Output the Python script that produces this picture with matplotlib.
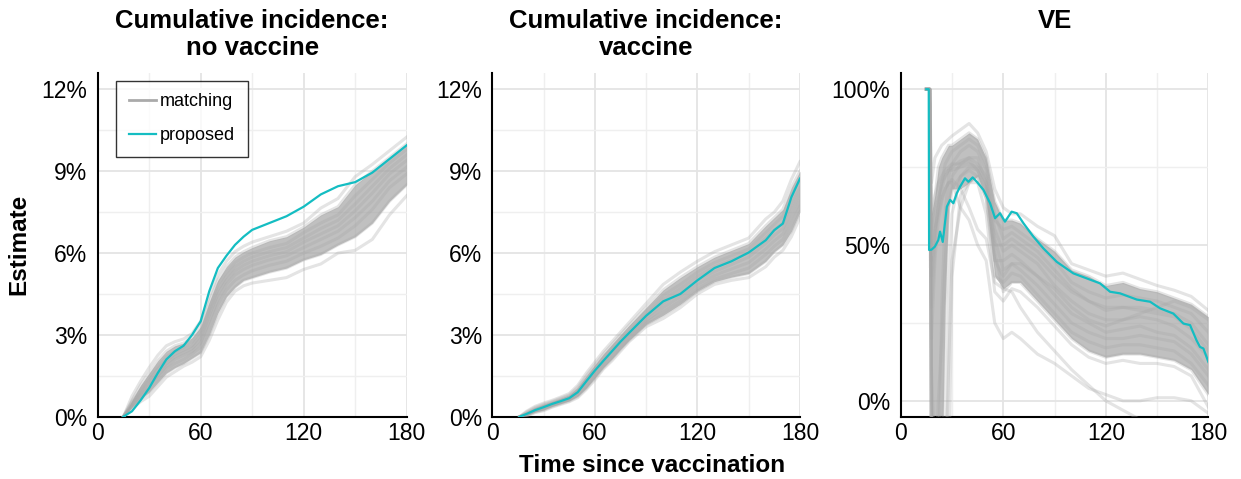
import numpy as np
import matplotlib
matplotlib.use("Agg")
import matplotlib.pyplot as plt
from matplotlib.lines import Line2D
from matplotlib.ticker import MultipleLocator

plt.rcParams['font.family'] = ['Liberation Sans', 'DejaVu Sans']

# ---------------- data ----------------
titles = ["Cumulative incidence:\nno vaccine", "Cumulative incidence:\nvaccine", "VE"]
xticks = [0, 60, 120, 180]
yticks_ci = [0, 3, 6, 9, 12]
yticklabels_ci = ["0%", "3%", "6%", "9%", "12%"]
yticks_ve = [0, 50, 100]
yticklabels_ve = ["0%", "50%", "100%"]

# Panel 1: cumulative incidence, no vaccine (%)
t1 = [15, 20, 25, 30, 35, 40, 45, 50, 55, 60, 65, 70, 75, 80, 85, 90, 100, 110, 120, 130, 140, 150, 160, 170, 180]
prop1 = [0, 0.2, 0.6, 1.05, 1.6, 2.1, 2.4, 2.6, 3.0, 3.5, 4.6, 5.45, 5.9, 6.3, 6.6, 6.85, 7.1, 7.35, 7.7, 8.15, 8.45, 8.6, 8.95, 9.45, 9.95]
match1 = [
    [0, 0.75, 1.3, 1.8, 2.25, 2.6, 2.75, 2.85, 3.05, 3.5, 4.4, 5.2, 5.7, 6.05, 6.25, 6.4, 6.6, 6.8, 7.1, 7.65, 8.0, 8.8, 9.25, 9.75, 10.25],
    [0, 0.6, 1.15, 1.6, 2.05, 2.4, 2.6, 2.7, 2.9, 3.3, 4.2, 5.0, 5.5, 5.85, 6.05, 6.2, 6.45, 6.6, 6.95, 7.4, 7.7, 8.5, 9.0, 9.5, 10.0],
    [0, 0.55, 1.0, 1.45, 1.85, 2.2, 2.4, 2.55, 2.75, 3.15, 4.0, 4.85, 5.3, 5.65, 5.85, 6.0, 6.2, 6.35, 6.75, 7.1, 7.4, 8.1, 8.7, 9.3, 9.8],
    [0, 0.5, 0.95, 1.35, 1.75, 2.05, 2.3, 2.45, 2.6, 3.0, 3.85, 4.65, 5.15, 5.5, 5.7, 5.85, 6.05, 6.2, 6.55, 6.9, 7.2, 7.8, 8.45, 9.1, 9.6],
    [0, 0.45, 0.85, 1.25, 1.6, 1.95, 2.2, 2.35, 2.5, 2.85, 3.7, 4.5, 5.0, 5.35, 5.55, 5.7, 5.9, 6.05, 6.4, 6.7, 7.0, 7.55, 8.2, 8.9, 9.4],
    [0, 0.4, 0.8, 1.15, 1.5, 1.85, 2.1, 2.25, 2.4, 2.7, 3.5, 4.3, 4.85, 5.2, 5.4, 5.55, 5.75, 5.9, 6.2, 6.5, 6.8, 7.3, 7.9, 8.65, 9.15],
    [0, 0.4, 0.75, 1.05, 1.4, 1.75, 1.95, 2.1, 2.3, 2.55, 3.3, 4.1, 4.65, 5.0, 5.2, 5.35, 5.55, 5.7, 6.0, 6.25, 6.55, 7.0, 7.6, 8.4, 8.9],
    [0, 0.35, 0.65, 0.9, 1.25, 1.6, 1.8, 1.95, 2.15, 2.35, 3.0, 3.8, 4.4, 4.75, 5.0, 5.1, 5.3, 5.45, 5.75, 5.95, 6.3, 6.6, 7.1, 7.9, 8.5],
    [0, 0.3, 0.55, 0.75, 1.1, 1.45, 1.65, 1.85, 2.0, 2.2, 2.8, 3.55, 4.2, 4.6, 4.8, 4.9, 5.0, 5.1, 5.4, 5.6, 6.0, 6.1, 6.5, 7.4, 8.1],
]

# Panel 2: cumulative incidence, vaccine (%)
t2 = [16, 20, 25, 30, 35, 40, 45, 50, 55, 60, 65, 70, 75, 80, 90, 100, 110, 120, 130, 140, 150, 160, 165, 170, 175, 180]
prop2 = [0, 0.1, 0.24, 0.35, 0.47, 0.57, 0.68, 0.9, 1.3, 1.69, 2.05, 2.4, 2.75, 3.07, 3.7, 4.23, 4.5, 5.0, 5.45, 5.7, 6.02, 6.47, 6.84, 7.08, 8.05, 8.73]
match2 = [
    [0, 0.2, 0.38, 0.5, 0.6, 0.72, 0.85, 1.15, 1.6, 2.0, 2.4, 2.75, 3.1, 3.45, 4.15, 4.85, 5.3, 5.7, 6.05, 6.3, 6.55, 7.25, 7.5, 7.9, 8.7, 9.35],
    [0, 0.17, 0.34, 0.46, 0.56, 0.68, 0.8, 1.08, 1.5, 1.9, 2.3, 2.65, 3.0, 3.35, 4.0, 4.65, 5.1, 5.5, 5.85, 6.1, 6.35, 7.0, 7.3, 7.6, 8.4, 9.0],
    [0, 0.14, 0.3, 0.42, 0.53, 0.64, 0.76, 1.0, 1.42, 1.82, 2.2, 2.55, 2.9, 3.22, 3.85, 4.45, 4.85, 5.3, 5.65, 5.9, 6.15, 6.75, 7.05, 7.35, 8.1, 8.7],
    [0, 0.12, 0.27, 0.38, 0.5, 0.6, 0.72, 0.95, 1.35, 1.75, 2.12, 2.47, 2.8, 3.12, 3.72, 4.3, 4.7, 5.15, 5.5, 5.75, 6.0, 6.55, 6.85, 7.1, 7.8, 8.4],
    [0, 0.1, 0.24, 0.35, 0.47, 0.57, 0.68, 0.9, 1.28, 1.66, 2.02, 2.38, 2.7, 3.02, 3.62, 4.15, 4.55, 5.0, 5.32, 5.58, 5.85, 6.35, 6.65, 6.9, 7.55, 8.15],
    [0, 0.08, 0.22, 0.32, 0.44, 0.54, 0.65, 0.85, 1.2, 1.58, 1.95, 2.3, 2.62, 2.95, 3.52, 4.0, 4.4, 4.85, 5.18, 5.42, 5.65, 6.15, 6.45, 6.7, 7.3, 7.9],
    [0, 0.06, 0.2, 0.28, 0.41, 0.51, 0.62, 0.8, 1.12, 1.5, 1.88, 2.2, 2.55, 2.88, 3.45, 3.85, 4.25, 4.7, 5.05, 5.25, 5.45, 5.95, 6.25, 6.5, 7.05, 7.7],
    [0, 0.04, 0.17, 0.25, 0.38, 0.48, 0.58, 0.75, 1.05, 1.42, 1.8, 2.12, 2.47, 2.8, 3.38, 3.72, 4.12, 4.6, 4.95, 5.12, 5.25, 5.7, 6.05, 6.3, 6.8, 7.5],
    [0, 0.02, 0.15, 0.22, 0.35, 0.45, 0.55, 0.7, 1.0, 1.35, 1.75, 2.05, 2.4, 2.75, 3.3, 3.6, 4.0, 4.5, 4.85, 5.0, 5.1, 5.5, 5.85, 6.1, 6.6, 7.3],
]

# Panel 3: VE (%)
t3p = [15, 16.4, 16.6, 18, 20, 22, 23, 24.6, 27, 28.9, 30.8, 32.8, 34.7, 37.6, 39.6, 42.1, 44.5, 48.4, 52.3, 55.2,
       58.1, 61, 64.9, 67.9, 71.8, 77.6, 83.5, 91.3, 101, 108.8, 116.6, 122.5, 128.3, 138.1, 145.9, 151.7, 159.5,
       165.4, 169.3, 173, 175.1, 177.1, 180]
prop3 = [100, 100, 48.4, 48.5, 49.5, 51.6, 54.3, 51, 62.3, 64.5, 63.4, 66.6, 68.7, 71.4, 70.3, 71.7, 70.3, 67.7, 63.4, 58.6,
         60.2, 57.5, 60.7, 60.2, 57, 52.7, 48.9, 44.6, 40.9, 39.3, 37.7, 35, 34.5, 32.5, 31.8, 29.7, 28,
         24.8, 24.3, 19.5, 17.3, 16.8, 12.5]
t3 = [15, 17, 18, 20, 22, 24, 26, 28, 30, 35, 40, 45, 50, 55, 60, 65, 70, 80, 90, 100, 110, 120, 130, 140, 150, 160, 170, 180]
match3 = [
    [100, 100, 70, 78, 80, 82, 83, 84, 85, 87, 89, 86, 80, 68, 62, 60, 60, 56, 53, 44, 42, 40, 41, 39, 37, 35.5, 33.5, 29],
    [100, 100, 55, 65, 75, 78, 80, 82, 82, 84, 86, 84, 78, 64, 58, 58, 57, 52, 48, 42, 40, 37, 38, 36, 35, 33, 31, 27],
    [100, 100, 10, -20, -30, 30, 60, 72, 76, 80, 82, 80, 74, 58, 55, 56, 54, 50, 45, 38, 35, 33, 34, 33, 32, 30, 28, 22],
    [100, 100, -30, -30, -30, -30, 30, 62, 72, 76, 78, 78, 70, 50, 50, 52, 50, 46, 40, 35, 32, 30, 30, 30, 29, 28, 25, 18],
    [100, 100, 40, 55, 62, 68, 72, 74, 75, 77, 78, 76, 72, 55, 48, 50, 48, 44, 37, 32, 28, 26, 26, 27, 26, 24, 20, 14],
    [100, 100, 0, -30, -30, -30, -30, 35, 60, 72, 75, 74, 68, 45, 45, 47, 45, 40, 34, 28, 25, 22, 23, 24, 22, 21, 17, 10],
    [100, 100, 50, 60, 65, 70, 72, 74, 74, 75, 76, 75, 70, 52, 42, 44, 42, 37, 31, 25, 22, 20, 20, 21, 20, 19, 15, 8],
    [100, 100, -30, -30, 0, 20, 45, 62, 68, 72, 74, 72, 65, 40, 38, 41, 40, 34, 28, 22, 19, 17, 18, 18, 17, 16, 12, 5],
    [100, 100, 60, 66, 70, 72, 74, 75, 76, 76, 77, 74, 68, 48, 35, 38, 38, 32, 26, 20, 16, 14, 15, 15, 14, 13, 10, 2],
    [100, 100, -30, -30, -30, -30, -30, -30, 40, 66, 70, 70, 60, 35, 32, 36, 35, 30, 24, 18, 14, 12, 13, 12, 12, 11, 8, -2],
    [100, 100, 20, 45, 58, 64, 68, 70, 71, 68, 62, 55, 52, 38, 36, 35, 30, 22, 16, 10, 5, 0, -3, -6, -8, -8, -8, -8],
    [100, 100, 45, 55, 60, 65, 68, 70, 70, 62, 58, 50, 45, 25, 20, 22, 20, 15, 12, 8, 4, 2, 0, 0, 1, 1, 0, -4],
    [100, 100, -30, -30, -30, -30, -30, 10, 45, 62, 70, 72, 65, 45, 40, 44, 44, 40, 36, 30, 26, 24, 26, 28, 30, 32, 30, 26],
    [100, 100, 30, 50, 64, 70, 76, 78, 80, 82, 84, 82, 76, 60, 52, 54, 52, 48, 42, 36, 32, 29, 30, 29, 28, 27, 23, 16],
]

# ---------------- style ----------------
CYAN = '#14BDC2'
GRAY = '#a6a6a6'
GRID_MAJ = '#e4e4e4'
GRID_MIN = '#efefef'

fig = plt.figure(figsize=(12.41, 4.79), dpi=100)
positions = [
    [0.0787, 0.130, 0.2490, 0.7176],
    [0.3967, 0.130, 0.2479, 0.7176],
    [0.7258, 0.130, 0.2479, 0.7176],
]
axes = [fig.add_axes(p) for p in positions]


def draw_band(ax, t, lines, lo_idx, hi_idx):
    arr = np.array(lines, dtype=float)
    srt = np.sort(arr, axis=0)
    ax.fill_between(t, srt[lo_idx], srt[hi_idx], color=GRAY, alpha=0.7, lw=0, zorder=2)
    for ln in lines:
        ax.plot(t, ln, color=GRAY, alpha=0.3, lw=2.2, zorder=3, solid_joinstyle='round')


def style_axes(ax, yt, ytl, ylim, yminor):
    ax.set_xlim(0, 180)
    ax.set_ylim(*ylim)
    ax.set_xticks(xticks)
    ax.set_xticklabels([str(v) for v in xticks])
    ax.xaxis.set_minor_locator(MultipleLocator(30))
    ax.set_yticks(yt)
    ax.set_yticklabels(ytl)
    ax.yaxis.set_minor_locator(MultipleLocator(yminor))
    ax.grid(True, which='major', color=GRID_MAJ, lw=1.3, zorder=0)
    ax.grid(True, which='minor', color=GRID_MIN, lw=1.0, zorder=0)
    ax.set_axisbelow(True)
    for s in ['top', 'right']:
        ax.spines[s].set_visible(False)
    for s in ['left', 'bottom']:
        ax.spines[s].set_linewidth(1.5)
        ax.spines[s].set_color('black')
    ax.tick_params(which='both', length=0, labelsize=16.5, colors='black')
    ax.tick_params(axis='x', pad=4)
    ax.tick_params(axis='y', pad=7.5)


draw_band(axes[0], t1, match1, 1, -2)
axes[0].plot(t1, prop1, color=CYAN, lw=1.6, zorder=5)
style_axes(axes[0], yticks_ci, yticklabels_ci, (0, 12.6), 1.5)

draw_band(axes[1], t2, match2, 1, -2)
axes[1].plot(t2, prop2, color=CYAN, lw=1.6, zorder=5)
style_axes(axes[1], yticks_ci, yticklabels_ci, (0, 12.6), 1.5)

draw_band(axes[2], t3, match3, 3, -2)
axes[2].plot(t3p, prop3, color=CYAN, lw=1.6, zorder=5)
style_axes(axes[2], yticks_ve, yticklabels_ve, (-5.1, 105.2), 25)

H = 479.0
baselines = [28.3, 55.0]
for ax, title in zip(axes, titles):
    pos = ax.get_position()
    cx = (pos.x0 + pos.x1) / 2
    for k, line in enumerate(title.split('\n')):
        fig.text(cx, 1 - baselines[k] / H, line, ha='center', va='baseline',
                 fontsize=18.5, fontweight='bold')

handles = [Line2D([0], [0], color='#aaaaaa', lw=2), Line2D([0], [0], color=CYAN, lw=1.6)]
leg = axes[0].legend(handles, ['matching', 'proposed'], loc='upper left',
                     bbox_to_anchor=(0.059, 0.978), borderaxespad=0, fontsize=13,
                     frameon=True, fancybox=False, edgecolor='black', handlelength=1.5,
                     handletextpad=0.25, labelspacing=0.95, borderpad=0.7)
leg.get_frame().set_linewidth(1.0)
leg.set_zorder(10)

fig.text(19 / 1241, 1 - 244 / H, 'Estimate', rotation=90, ha='center', va='center',
         fontsize=17.5, fontweight='bold')
fig.text(652 / 1241, 1 - 472 / H, 'Time since vaccination', ha='center', va='baseline',
         fontsize=17.5, fontweight='bold')

fig.savefig('out.png', dpi=100)
